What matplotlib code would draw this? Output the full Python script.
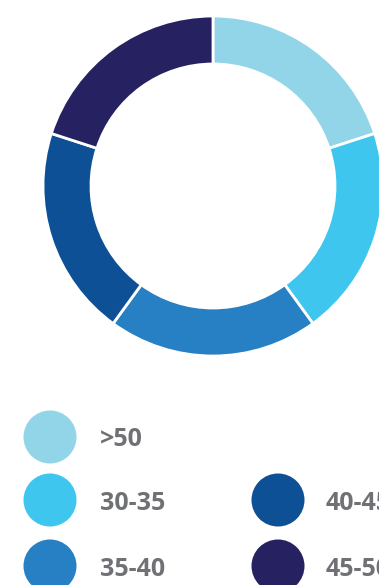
import matplotlib
matplotlib.use("Agg")
import matplotlib.pyplot as plt
from matplotlib.patches import Circle

# age groups and their shares
labels = [">50", "30-35", "35-40", "40-45", "45-50"]
shares = [20, 20, 20, 20, 20]
colors = ["#93D5E8", "#3EC6EE", "#277FC4", "#0D5095", "#262262"]

# legend layout: (column, row) for each label
legend_slots = [(0, 0), (0, 1), (0, 2), (1, 1), (1, 2)]

W, H = 379, 585
fig = plt.figure(figsize=(W / 100, H / 100), dpi=100)

# donut, positioned in pixels
cx, cy, R, ring = 213, 186, 170, 48
ax = fig.add_axes([(cx - R) / W, (H - cy - R) / H, 2 * R / W, 2 * R / H])
ax.pie(shares, colors=colors, startangle=90, counterclock=False,
       radius=1, wedgeprops=dict(width=ring / R, edgecolor="white", linewidth=2))
ax.set_xlim(-1, 1)
ax.set_ylim(-1, 1)
ax.set_aspect("equal")
ax.axis("off")

# legend drawn in pixel coordinates
lg = fig.add_axes([0, 0, 1, 1])
lg.set_xlim(0, W)
lg.set_ylim(H, 0)
lg.axis("off")
col_x = [50, 278]
text_x = [100, 326]
row_y = [437, 500, 566]
for lab, col, (c, r) in zip(labels, colors, legend_slots):
    lg.add_patch(Circle((col_x[c], row_y[r]), 26.5, color=col, lw=0))
    lg.text(text_x[c], row_y[r] + 3, lab, fontsize=18, fontweight="bold",
            family="Open Sans", color="#707174", va="center", ha="left")

fig.savefig("out.png", dpi=100)
